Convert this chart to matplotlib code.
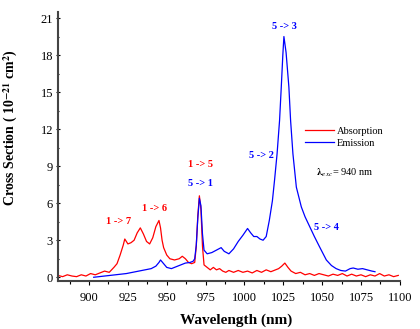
import matplotlib
matplotlib.use("Agg")
import matplotlib.pyplot as plt
from matplotlib.ticker import MultipleLocator

plt.rcParams['font.family'] = ['Liberation Serif', 'DejaVu Serif']
plt.rcParams['mathtext.fontset'] = 'stix'

# absorption cross section (red)
abs_wl = [880, 883, 886, 889, 892, 895, 898, 901, 904, 907, 910, 913, 916, 918, 920, 922, 923, 925,
          927, 929, 931, 933, 935, 937, 939, 941, 943, 945, 946, 947, 948, 950, 952, 955, 958, 960,
          962, 964, 966, 968, 969, 970, 971, 972, 973, 974, 976, 978, 980, 982, 984, 986, 988, 990,
          993, 996, 999, 1002, 1005, 1008, 1011, 1014, 1017, 1020, 1022, 1024, 1026, 1028, 1030,
          1033, 1036, 1039, 1042, 1045, 1048, 1051, 1054, 1057, 1060, 1063, 1066, 1069, 1072, 1075,
          1078, 1081, 1084, 1087, 1090, 1093, 1096, 1099]
abs_cs = [0.15, 0.05, 0.2, 0.1, 0.05, 0.2, 0.1, 0.3, 0.2, 0.35, 0.5, 0.4, 0.8, 1.1, 1.8, 2.6, 3.1, 2.7,
          2.8, 3.0, 3.6, 4.0, 3.5, 2.9, 2.7, 3.2, 4.1, 4.6, 4.0, 3.0, 2.4, 1.8, 1.5, 1.4, 1.5, 1.7,
          1.5, 1.2, 1.1, 1.2, 2.5, 5.0, 6.6, 5.5, 2.5, 1.0, 0.8, 0.6, 0.8, 0.6, 0.7, 0.5, 0.4, 0.55,
          0.4, 0.55, 0.4, 0.5, 0.35, 0.55, 0.4, 0.6, 0.45, 0.6, 0.7, 0.9, 1.15, 0.8, 0.5,
          0.3, 0.4, 0.2, 0.3, 0.15, 0.3, 0.2, 0.1, 0.25, 0.15, 0.3, 0.1, 0.25, 0.1, 0.2,
          0.05, 0.2, 0.1, 0.3, 0.1, 0.2, 0.05, 0.15]

# emission cross section (blue)
em_wl = [903, 910, 917, 924, 930, 936, 940, 943, 945, 946, 948, 950, 953, 956, 959, 962, 965, 967,
         968, 969, 970, 971, 972, 973, 974, 976, 979, 982, 985, 987, 990, 993, 996, 999, 1002, 1004,
         1006, 1008, 1010, 1012, 1014, 1016, 1018, 1019.4, 1021, 1022.6, 1023.7, 1024.7, 1025.4,
         1026.8, 1028.6, 1029.7, 1031.2, 1033.4, 1036.6, 1039, 1042, 1045, 1048.4, 1052.7,
         1056, 1059, 1062, 1065, 1068, 1070, 1073, 1076, 1079, 1082, 1084]
em_cs = [0.0, 0.1, 0.2, 0.3, 0.45, 0.6, 0.7, 0.9, 1.2, 1.4, 1.1, 0.8, 0.7, 0.85, 1.0, 1.15, 1.2, 1.3,
         1.5, 2.6, 4.8, 6.4, 5.8, 3.5, 2.2, 1.9, 2.0, 2.2, 2.4, 2.1, 1.9, 2.3, 2.9, 3.4, 3.95, 3.6,
         3.3, 3.3, 3.1, 3.0, 3.3, 4.6, 6.2, 7.9, 10.0, 12.7, 15.4, 18.0, 19.5,
         18.2, 15.4, 12.7, 10.0, 7.3, 5.7, 4.9, 4.1, 3.3, 2.45, 1.4,
         0.95, 0.7, 0.55, 0.5, 0.7, 0.75, 0.65, 0.7, 0.6, 0.5, 0.45]

labels = [("5 -> 3", 1025.8, 20.3, "blue"), ("5 -> 2", 1011, 9.9, "blue"),
          ("1 -> 5", 972, 9.1, "red"), ("5 -> 1", 972, 7.6, "blue"),
          ("1 -> 6", 942, 5.6, "red"), ("1 -> 7", 919, 4.5, "red"),
          ("5 -> 4", 1053, 4.0, "blue")]

fig = plt.figure(figsize=(4.2, 3.29), dpi=100)
ax = fig.add_axes([0.138, 0.146, 0.814, 0.818])

ax.plot(abs_wl, abs_cs, color="#ff0000", lw=0.9, label="Absorption")
ax.plot(em_wl, em_cs, color="#0000ff", lw=0.9, label="Emission")

for txt, x, y, c in labels:
    ax.text(x, y, txt, color=c, fontsize=7.5, fontweight="bold", ha="center", va="center")

ax.text(1046, 8.5, r"$\mathbf{\lambda}_{exc}$= 940 nm", fontsize=7.5, va="center")

ax.set_xlim(880, 1100)
ax.set_ylim(-0.3, 21.5)
ax.xaxis.set_major_locator(MultipleLocator(25))
ax.xaxis.set_minor_locator(MultipleLocator(12.5))
ax.yaxis.set_major_locator(MultipleLocator(3))
ax.yaxis.set_minor_locator(MultipleLocator(1.5))
ax.tick_params(axis="both", which="major", labelsize=9, length=3, width=0.8)
ax.tick_params(axis="x", which="major", pad=5)
ax.tick_params(axis="y", which="major", pad=2)
ax.tick_params(axis="both", which="minor", length=2, width=0.8)
ax.tick_params(axis="y", which="both", direction="inout")
ax.spines["top"].set_visible(False)
ax.spines["right"].set_visible(False)
for side in ("left", "bottom"):
    ax.spines[side].set_linewidth(1.5)
    ax.spines[side].set_color("#444444")

ax.set_xlabel("Wavelength (nm)", fontsize=11, fontweight="bold")
ax.set_ylabel(r"Cross Section ( 10$^{\mathbf{-21}}$ cm$^{\mathbf{2}}$)", fontsize=10,
              fontweight="bold")
ax.xaxis.set_label_coords(0.52, -0.12)
ax.yaxis.set_label_coords(-0.11, 0.57)

ax.legend(loc="upper left", bbox_to_anchor=(0.7, 0.6), frameon=False, fontsize=7.5,
          handlelength=2.8, handletextpad=0.3, labelspacing=0.25, borderpad=0.2)

fig.savefig("out.png", dpi=100)
